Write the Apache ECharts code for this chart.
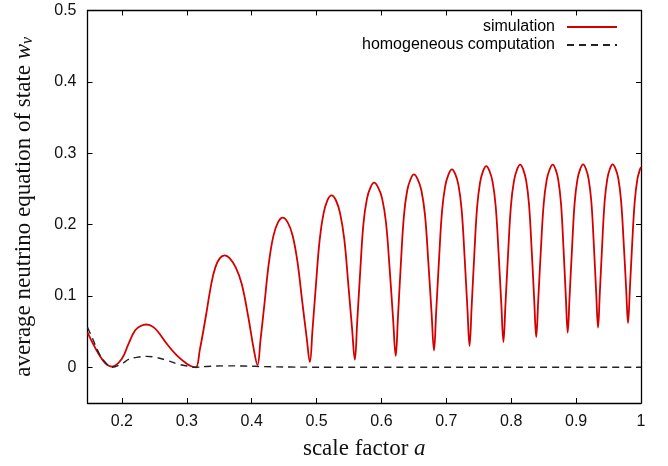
<!DOCTYPE html>
<html>
<head>
<meta charset="utf-8">
<script src="https://cdn.jsdelivr.net/npm/echarts@6/dist/echarts.min.js"></script>
<style>html,body{margin:0;padding:0;background:#fff;}#c{width:668px;height:466px;}</style>
</head>
<body>
<div id="c"></div>
<script>
// scale factor a and w_nu for the simulation (red)
const simulationA = [0.147,0.155,0.164,0.1743,0.1846,0.200,0.2102,0.2205,0.2290,0.2374,0.2458,0.2538,0.2692,0.2846,0.300,0.307,0.3140,
0.320,0.3292,0.3378,0.344,0.351,0.3585,0.366,0.3754,0.3846,0.3948,0.4035,0.409,
0.4136,0.4198,0.4264,0.4334,0.4404,0.4477,0.4557,0.4632,0.4707,0.4779,0.4847,0.4897,
0.4937,0.4990,0.5047,0.5107,0.5167,0.523,0.5298,0.5363,0.5428,0.5489,0.5547,0.559,
0.5626,0.5673,0.5723,0.5777,0.5830,0.5886,0.5950,0.6010,0.6070,0.6127,0.6180,0.622,
0.6254,0.6298,0.6346,0.6396,0.6447,0.650,0.6559,0.6615,0.6671,0.6723,0.6773,0.681,
0.6843,0.6887,0.6934,0.6984,0.7034,0.7086,0.7138,0.7187,0.7236,0.7282,0.7325,0.7358,
0.7389,0.7430,0.7474,0.7520,0.7566,0.7615,0.7665,0.7713,0.7761,0.7806,0.7848,0.788,
0.7911,0.7952,0.7996,0.8043,0.8089,0.8138,0.8185,0.8229,0.8274,0.8316,0.8355,0.8385,
0.8416,0.8456,0.8500,0.8546,0.8592,0.864,0.8684,0.8725,0.8767,0.8806,0.8842,0.887,
0.8899,0.8937,0.8977,0.9020,0.9063,0.9108,0.9152,0.9193,0.9235,0.9274,0.9310,0.9338,
0.9365,0.9401,0.9439,0.9480,0.9520,0.9563,0.9608,0.9651,0.9693,0.9734,0.9772,0.980,
0.9828,0.9864,0.9904,0.9945,0.9986,1.0];
const simulationW = [0.049,0.034,0.019,0.006,0.001,0.012,0.033,0.052,0.058,0.060,0.058,0.052,0.033,0.0168,0.005,0.0015,0.0,
0.024,0.0705,0.117,0.140,0.153,0.157,0.153,0.140,0.117,0.0705,0.024,0.003,
0.0381,0.0898,0.1456,0.1839,0.2027,0.2097,0.2028,0.1844,0.147,0.0924,0.0419,0.0075,
0.0519,0.1149,0.178,0.2153,0.234,0.241,0.2341,0.2157,0.1788,0.1166,0.0545,0.0107,
0.0628,0.1347,0.2017,0.2364,0.2518,0.2587,0.2519,0.2368,0.2029,0.1373,0.0669,0.0159,
0.0693,0.1431,0.2118,0.2474,0.2632,0.2703,0.2634,0.2481,0.2135,0.1469,0.0753,0.0235,
0.0768,0.1505,0.2191,0.2546,0.2704,0.2775,0.2706,0.2552,0.2206,0.1538,0.082,0.030,
0.0829,0.156,0.224,0.2593,0.2749,0.282,0.2751,0.2598,0.2253,0.1588,0.0873,0.0355,
0.0877,0.1597,0.2268,0.2615,0.2769,0.2839,0.2771,0.2622,0.2284,0.1632,0.0932,0.0425,
0.0932,0.1633,0.2285,0.2623,0.2772,0.284,0.2774,0.2628,0.2299,0.1663,0.098,0.0486,
0.0981,0.1665,0.2301,0.2631,0.2777,0.2843,0.2779,0.2637,0.2317,0.17,0.1036,0.0556,
0.1036,0.17,0.2317,0.2637,0.2779,0.2843,0.2781,0.2643,0.2332,0.1732,0.1087,0.062,
0.1086,0.173,0.2329,0.264,0.2778,0.2805];

// homogeneous computation (black dashed)
const homogeneousA = [0.147,0.155,0.164,0.1743,0.1846,0.200,0.2102,0.2205,0.2374,0.2538,0.2692,0.2846,0.300,0.3143,0.33,0.36,0.39,0.42,0.46,0.52,0.6,0.8,1.0];
const homogeneousW = [0.056,0.04,0.021,0.007,0.0,0.005,0.011,0.0136,0.0154,0.0136,0.0098,0.005,0.0018,0.0,0.0012,0.002,0.0018,0.001,0.0004,0.0001,0,0,0];

const xMin = 0.147, xMax = 1.0, yMin = -0.05, yMax = 0.5;
const seriesNames = ['simulation', 'homogeneous computation'];

const chart = echarts.init(document.getElementById('c'), null, {renderer: 'canvas'});
const sans = 'Liberation Sans';
const serif = 'Liberation Serif';
const axisCommon = {
  axisLine: {show: true, onZero: false, lineStyle: {color: '#000', width: 1.3}},
  axisTick: {show: true, inside: true, length: 5, lineStyle: {color: '#000', width: 1}},
  splitLine: {show: false}
};
function tickFmt(v) {
  const r = Math.round(v * 10) / 10;
  if (Math.abs(r - v) > 1e-6) return '';
  return String(r);
}
function legendCfg(name, top) {
  return {data: [name], right: 50, top: top, orient: 'vertical', align: 'right', padding: 0,
    itemWidth: 50, itemHeight: 14, itemStyle: {opacity: 0},
    textStyle: {fontFamily: sans, fontSize: 16, color: '#000', padding: [0, 7, 0, 0]}};
}
chart.setOption({
  animation: false,
  backgroundColor: '#fff',
  grid: {left: 87.5, right: 27, top: 10.5, bottom: 63, containLabel: false},
  legend: [legendCfg(seriesNames[0], 19), legendCfg(seriesNames[1], 37)],
  xAxis: [
    Object.assign({}, axisCommon, {
      type: 'value', min: xMin, max: xMax, splitNumber: 9, position: 'bottom',
      axisLabel: {show: true, showMinLabel: false, formatter: tickFmt, margin: 11, fontFamily: sans, fontSize: 16, color: '#111'},
      name: '{n|scale factor }{i|a}', nameLocation: 'middle', nameGap: 34,
      nameTextStyle: {rich: {n: {fontFamily: serif, fontSize: 23, color: '#111'}, i: {fontFamily: serif, fontSize: 23, fontStyle: 'italic', color: '#111'}}}
    }),
    Object.assign({}, axisCommon, {
      type: 'value', min: xMin, max: xMax, splitNumber: 9, position: 'top',
      axisLabel: {show: false}
    })
  ],
  yAxis: [
    Object.assign({}, axisCommon, {
      type: 'value', min: yMin, max: yMax, splitNumber: 6, position: 'left',
      axisLabel: {show: true, showMinLabel: false, formatter: tickFmt, margin: 11, fontFamily: sans, fontSize: 16, color: '#111'},
      name: '{n|average neutrino equation of state }{i|w}{s|ν}', nameLocation: 'middle', nameGap: 52, nameRotate: 90,
      nameTextStyle: {rich: {
        n: {fontFamily: serif, fontSize: 23, color: '#111'},
        i: {fontFamily: serif, fontSize: 23, fontStyle: 'italic', color: '#111'},
        s: {fontFamily: serif, fontSize: 16, fontStyle: 'italic', color: '#111', verticalAlign: 'bottom', padding: [8, 0, 0, 0]}
      }}
    }),
    Object.assign({}, axisCommon, {
      type: 'value', min: yMin, max: yMax, splitNumber: 6, position: 'right',
      axisLabel: {show: false}
    })
  ],
  series: [
    {name: seriesNames[0], type: 'line', xAxisIndex: 0, yAxisIndex: 0, showSymbol: false, symbol: 'none', smooth: 0.4,
     data: simulationA.map((a, i) => [a, simulationW[i]]),
     lineStyle: {color: '#d40000', width: 1.8}, itemStyle: {color: '#d40000'}, z: 2},
    {name: seriesNames[1], type: 'line', xAxisIndex: 0, yAxisIndex: 0, showSymbol: false, symbol: 'none', smooth: 0.4,
     data: homogeneousA.map((a, i) => [a, homogeneousW[i]]),
     lineStyle: {color: '#222', width: 1.4, type: [7, 5]}, itemStyle: {color: '#222'}, z: 3}
  ]
});
</script>
</body>
</html>
